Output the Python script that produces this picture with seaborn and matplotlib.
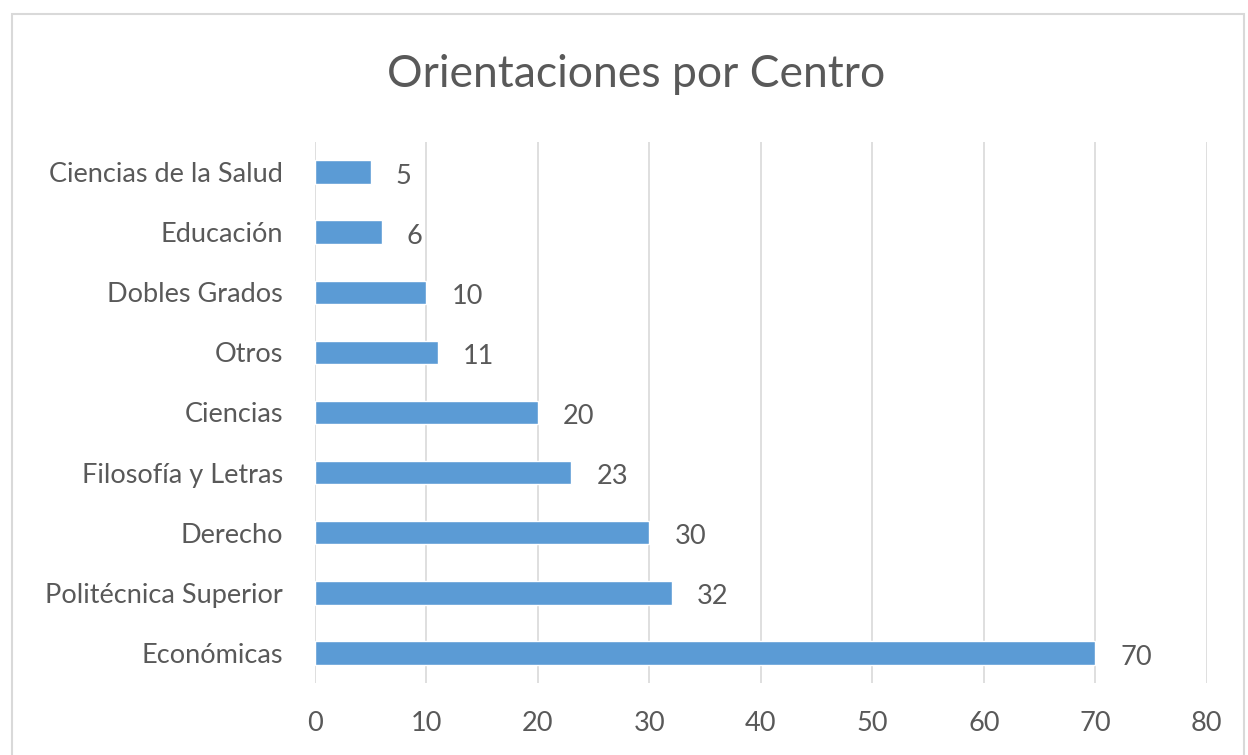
import seaborn as sns
import matplotlib.pyplot as plt
import pandas as pd
from matplotlib.patches import Rectangle

centros = ['Ciencias de la Salud', 'Educación', 'Dobles Grados', 'Otros', 'Ciencias',
           'Filosofía y Letras', 'Derecho', 'Politécnica Superior', 'Económicas']
orientaciones = [5, 6, 10, 11, 20, 23, 30, 32, 70]
xticks = [0, 10, 20, 30, 40, 50, 60, 70, 80]

df = pd.DataFrame({'centro': centros, 'n': orientaciones})

sns.set_style('white')
plt.rcParams['font.family'] = ['Lato', 'DejaVu Sans']
txt = '#595959'

fig = plt.figure(figsize=(12.48, 7.55), dpi=100)
ax = fig.add_axes([0.2524, 0.0954, 0.7146, 0.7166])

sns.barplot(data=df, x='n', y='centro', orient='h', color='#5B9BD5',
            saturation=1, width=0.39, ax=ax)

ax.set_xlim(0, 80)
ax.set_xticks(xticks)
ax.grid(axis='x', color='#D9D9D9', linewidth=1.2)
ax.set_axisbelow(True)
for s in ax.spines.values():
    s.set_visible(False)
ax.tick_params(axis='both', length=0, labelsize=19.5, labelcolor=txt)
ax.tick_params(axis='y', pad=23)
ax.tick_params(axis='x', pad=20)
ax.set_xlabel('')
ax.set_ylabel('')

# value labels, a bit right of the bar end and slightly below centre (Excel style)
for i, v in enumerate(orientaciones):
    ax.annotate(str(v), (v, i), xytext=(18, -3), textcoords='offset points',
                ha='left', va='center', fontsize=19.5, color=txt)

fig.suptitle('Orientaciones por Centro', x=0.51, y=0.928, fontsize=32, color=txt)

fig.patches.append(Rectangle((0.0096, -0.05), 0.9872, 1.031, transform=fig.transFigure,
                             fill=False, edgecolor='#D9D9D9', linewidth=1.5))

fig.savefig('out.png', dpi=100)
